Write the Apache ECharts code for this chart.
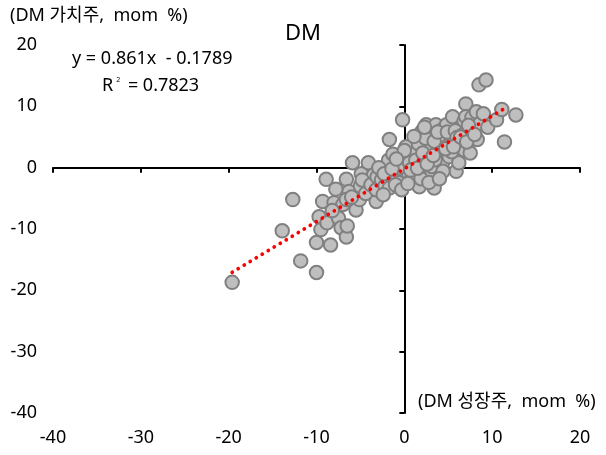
<!DOCTYPE html>
<html>
<head>
<meta charset="utf-8">
<script src="https://cdn.jsdelivr.net/npm/echarts@6/dist/echarts.min.js"></script>
<style>html,body{margin:0;padding:0;background:#fff}#c{width:606px;height:455px}</style>
</head>
<body>
<div id="c"></div>
<script>
// DM growth (x) vs DM value (y), mom %
const growthX = [
-19.6,-13.9,-12.7,-11.8,-10.0,-10.0,-8.4,-9.5,-8.9,-9.3,-9.7,-8.8,-8.0,-7.5,-7.2,-6.6,-6.5,-6.6,-6.3,-5.5,
-7.0,-8.2,-5.9,-4.9,-4.1,-3.2,-3.5,-5.0,-4.8,-5.1,-6.6,-7.8,-6.0,-4.4,-3.8,-3.2,-3.1,
-2.6,-2.2,-2.0,-1.7,-1.7,-1.5,-1.1,-0.8,-0.5,-0.2,-0.3,0.0,0.2,0.3,0.5,0.8,0.9,1.0,1.2,1.4,1.7,1.8,2.0,2.2,
2.5,2.5,2.7,2.9,3.0,3.2,3.4,3.6,3.7,3.9,4.1,4.3,4.3,4.6,4.8,5.0,5.1,5.3,5.5,5.7,5.9,6.2,6.2,6.5,6.8,6.8,
7.0,7.0,7.2,7.5,7.7,7.9,8.2,8.3,8.5,8.6,9.0,9.3,9.5,10.5,11.1,11.4,12.7,
-1.0,-0.6,0.6,1.3,1.6,2.1,2.4,3.1,3.4,3.8,4.4,4.9,5.4,5.8,6.0,6.6,7.3,-1.8,-2.9,-2.4,-0.3,0.4,1.9,2.8,4.0,
2.3,1.1,3.5,-1.3,0.0,-2.3,-1.4,-0.9,0.7,1.5,2.6,3.3,4.7,5.6,6.4,7.1,8.0
];
const valueY = [
-18.7,-10.3,-5.2,-15.2,-17.1,-12.2,-12.6,-10.1,-1.9,-5.5,-8.0,-9.0,-5.7,-8.2,-9.8,-11.3,-9.5,-1.9,-3.9,-6.9,
-6.0,-7.0,0.8,-1.0,0.8,-5.5,-1.2,-3.0,-2.0,-5.2,-5.2,-3.5,-4.8,-4.2,-2.8,-3.6,-1.5,
-2.0,-3.0,-0.5,-3.3,4.6,-1.2,0.5,-1.5,-2.4,7.8,1.0,-0.5,3.4,2.0,-1.0,1.8,-1.5,0.3,-2.2,2.6,-3.1,0.9,5.9,-0.2,
7.0,-0.8,1.8,3.3,-1.3,5.4,-3.3,7.0,2.2,0.9,4.1,6.2,0.5,2.8,7.0,3.6,1.8,5.2,8.3,4.4,-0.6,0.8,6.4,3.6,2.9,7.6,
10.4,8.3,5.6,2.4,8.2,6.1,9.1,4.6,13.5,7.2,8.8,14.3,6.6,7.8,9.5,4.2,8.6,
-2.8,0.0,0.8,1.2,3.9,2.4,4.8,0.2,4.3,5.8,-0.6,5.8,2.6,6.0,4.9,5.3,6.9,1.2,0.0,-4.4,-3.6,-2.6,-1.8,-2.4,-1.8,
6.6,5.1,1.3,2.2,2.8,-1.0,-0.2,1.4,-0.4,-0.1,0.6,2.0,3.1,3.4,5.0,4.2,5.4
];
const trendX = [-19.6, 11.8];
const slope = 0.861, intercept = -0.1789;

const points = growthX.map((x, i) => [x, valueY[i]]);
const trend = trendX.map(x => [x, slope * x + intercept]);

const FONT = '"Noto Sans", "Noto Sans CJK KR", sans-serif';
const chart = echarts.init(document.getElementById('c'));
const lbl = {color: '#000', fontSize: 18, fontFamily: FONT};
chart.setOption({
  animation: false,
  grid: {left: 53, right: 26, top: 45, bottom: 42, containLabel: false},
  xAxis: [
    {type: 'value', min: -40, max: 20, interval: 10, position: 'bottom',
     axisLine: {show: false, onZero: false}, axisTick: {show: false}, splitLine: {show: false},
     axisLabel: Object.assign({margin: 16}, lbl)},
    {type: 'value', min: -40, max: 20, interval: 10, position: 'top',
     axisLine: {show: true, onZero: true, lineStyle: {color: '#000', width: 2}},
     axisTick: {show: true, inside: true, length: 5, lineStyle: {color: '#000', width: 2}},
     axisLabel: {show: false}, splitLine: {show: false}}
  ],
  yAxis: [
    {type: 'value', min: -40, max: 20, interval: 10, position: 'left',
     axisLine: {show: false, onZero: false}, axisTick: {show: false}, splitLine: {show: false},
     axisLabel: Object.assign({margin: 16}, lbl)},
    {type: 'value', min: -40, max: 20, interval: 10, position: 'right',
     axisLine: {show: true, onZero: true, lineStyle: {color: '#000', width: 2}},
     axisTick: {show: true, inside: true, length: 5, lineStyle: {color: '#000', width: 2}},
     axisLabel: {show: false}, splitLine: {show: false}}
  ],
  series: [
    {type: 'scatter', xAxisIndex: 0, yAxisIndex: 0, data: points, symbolSize: 13.5,
     itemStyle: {color: '#BFBFBF', borderColor: '#808080', borderWidth: 2, opacity: 1}},
    {type: 'line', xAxisIndex: 0, yAxisIndex: 0, data: trend, symbol: 'none',
     lineStyle: {color: '#FF0000', width: 3.8, type: [0.01, 7], cap: 'round'}, z: 5}
  ],
  graphic: [
    {type: 'text', left: 10, top: 7, style: {text: '(DM 가치주,  mom  %)', fill: '#000', font: '18px ' + FONT}},
    {type: 'text', left: 418, top: 393, style: {text: '(DM 성장주,  mom  %)', fill: '#000', font: '18px ' + FONT}},
    {type: 'text', left: 285, top: 23, style: {text: 'DM', fill: '#000', font: '22px ' + FONT}},
    {type: 'text', left: 72, top: 50, style: {text: 'y = 0.861x  - 0.1789', fill: '#000', font: '18px ' + FONT}},
    {type: 'text', left: 102, top: 77, style: {
      text: 'R{s|2} = 0.7823', fill: '#000', font: '18px ' + FONT,
      rich: {s: {fontSize: 7, fontFamily: FONT, fill: '#000', verticalAlign: 'top', padding: [0, 3, 8, 3]}}}}
  ]
});
</script>
</body>
</html>
